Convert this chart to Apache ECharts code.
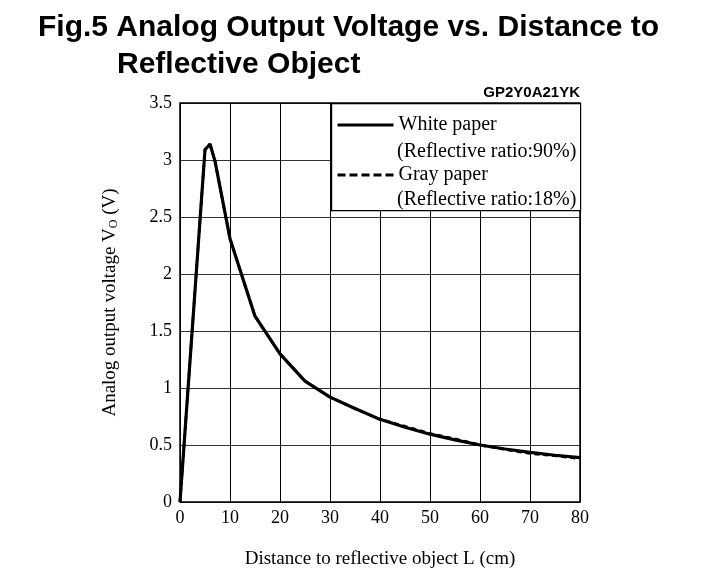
<!DOCTYPE html>
<html lang="en">
<head>
    <meta charset="utf-8">
    <title>GP2Y0A21YK</title>
    <script src="https://cdn.jsdelivr.net/npm/echarts@6/dist/echarts.min.js"></script>
    <style>
        html, body { margin: 0; padding: 0; background: #fff; }
        #main { width: 707px; height: 584px; }
    </style>
</head>
<body>
<div id="main"></div>
<script type="text/javascript">
    // distance (cm) and output voltage (V)
    var distWhite = [0, 5, 6, 7, 10, 15, 20, 25, 30, 35, 40, 45, 50, 55, 60, 65, 70, 75, 80];
    var voltWhite = [0, 3.09, 3.14, 2.99, 2.31, 1.63, 1.30, 1.06, 0.92, 0.82, 0.725, 0.655, 0.595, 0.545, 0.50, 0.465, 0.435, 0.41, 0.39];
    var distGray = [0, 5, 6, 7, 10, 15, 20, 25, 30, 35, 40, 45, 50, 55, 60, 65, 70, 75, 80];
    var voltGray = [0, 3.09, 3.14, 2.99, 2.31, 1.63, 1.30, 1.06, 0.92, 0.82, 0.725, 0.665, 0.60, 0.555, 0.50, 0.46, 0.425, 0.405, 0.38];
    var seriesNames = ['White paper', 'Gray paper'];
    var seriesNotes = ['(Reflective ratio:90%)', '(Reflective ratio:18%)'];

    function pairs(xs, ys) {
        return xs.map(function (x, i) { return [x, ys[i]]; });
    }

    var serif = '"Liberation Serif", "Times New Roman", serif';
    var sans = '"Liberation Sans", Arial, sans-serif';

    var myChart = echarts.init(document.getElementById('main'));

    var option = {
        backgroundColor: '#fff',
        animation: false,
        grid: {
            left: 180,
            top: 103,
            width: 400,
            height: 399,
            show: true,
            borderColor: '#000',
            borderWidth: 1.5,
            z: 1
        },
        graphic: [
            {
                type: 'text',
                left: 38,
                top: 13,
                style: {
                    text: 'Fig.5 Analog Output Voltage vs. Distance to',
                    font: 'bold 30px ' + sans,
                    fill: '#000'
                }
            },
            {
                type: 'text',
                left: 117,
                top: 50,
                style: {
                    text: 'Reflective Object',
                    font: 'bold 30px ' + sans,
                    fill: '#000'
                }
            },
            {
                type: 'text',
                right: 127,
                top: 85,
                style: {
                    text: 'GP2Y0A21YK',
                    font: 'bold 15px ' + sans,
                    fill: '#000'
                }
            },
            {
                type: 'rect',
                left: 331,
                top: 103,
                shape: { width: 249, height: 107 },
                style: { fill: '#fff', stroke: '#000', lineWidth: 1.2 },
                z: 3
            },
            {
                type: 'text',
                left: 397,
                top: 142,
                z: 6,
                style: { text: seriesNotes[0], font: '20px ' + serif, fill: '#000' }
            },
            {
                type: 'text',
                left: 397,
                top: 190,
                z: 6,
                style: { text: seriesNotes[1], font: '20px ' + serif, fill: '#000' }
            }
        ],
        legend: {
            left: 336,
            top: 113,
            padding: 0,
            orient: 'vertical',
            itemWidth: 56,
            itemHeight: 14,
            itemGap: 26,
            z: 5,
            data: [
                { name: seriesNames[0], lineStyle: { width: 3 } },
                { name: seriesNames[1], lineStyle: { width: 3, type: [8, 4] } }
            ],
            itemStyle: { opacity: 0 },
            textStyle: {
                fontFamily: serif,
                fontSize: 20,
                color: '#000',
                lineHeight: 24
            }
        },
        xAxis: {
            type: 'value',
            min: 0,
            max: 80,
            interval: 10,
            name: 'Distance to reflective object L (cm)',
            nameLocation: 'middle',
            nameGap: 48,
            nameTextStyle: { fontFamily: serif, fontSize: 19, color: '#000' },
            axisLine: { show: false },
            axisTick: { show: false },
            axisLabel: { fontFamily: serif, fontSize: 18, color: '#000', margin: 7 },
            splitLine: { show: true, lineStyle: { color: '#000', width: 1 } }
        },
        yAxis: {
            type: 'value',
            min: 0,
            max: 3.5,
            interval: 0.5,
            name: '{a|Analog output voltage V}{s|O}{a| (V)}',
            nameLocation: 'middle',
            nameGap: 60,
            nameRotate: 90,
            nameTextStyle: {
                rich: {
                    a: { fontFamily: serif, fontSize: 19, color: '#000' },
                    s: { fontFamily: serif, fontSize: 12, color: '#000', verticalAlign: 'bottom', padding: [7, 0, 0, 0] }
                }
            },
            axisLine: { show: false },
            axisTick: { show: false },
            axisLabel: { fontFamily: serif, fontSize: 18, color: '#000', margin: 8 },
            splitLine: { show: true, lineStyle: { color: '#333', width: 1 } }
        },
        series: [
            {
                name: seriesNames[0],
                type: 'line',
                data: pairs(distWhite, voltWhite),
                symbol: 'none',
                z: 2,
                lineStyle: { color: '#000', width: 3.2, type: 'solid' },
                itemStyle: { color: '#000' }
            },
            {
                name: seriesNames[1],
                type: 'line',
                data: pairs(distGray, voltGray),
                symbol: 'none',
                z: 2,
                lineStyle: { color: '#000', width: 2.6, type: [5, 4] },
                itemStyle: { color: '#000' }
            }
        ]
    };

    myChart.setOption(option);
</script>
</body>
</html>
